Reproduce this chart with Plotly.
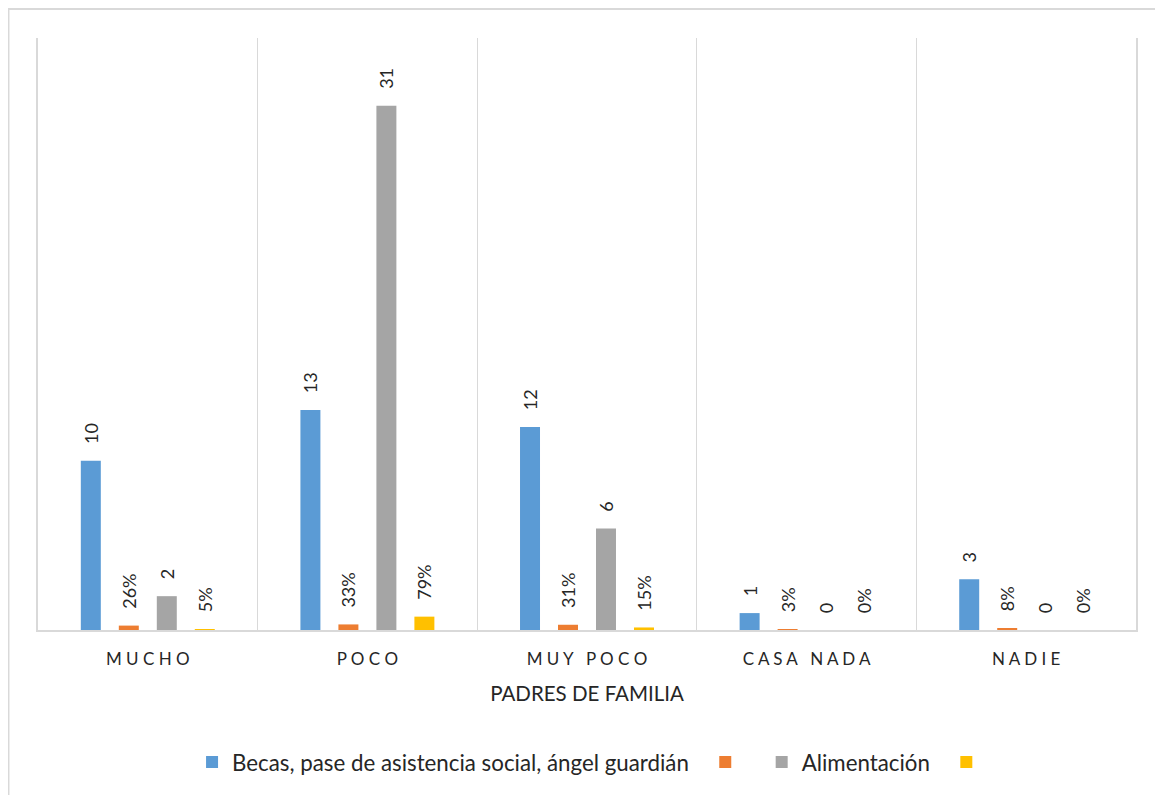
import plotly.graph_objects as go

categories = ["MUCHO", "POCO", "MUY POCO", "CASA NADA", "NADIE"]
becas = [10, 13, 12, 1, 3]
becas_pct = [0.26, 0.33, 0.31, 0.03, 0.08]
alimentacion = [2, 31, 6, 0, 0]
alimentacion_pct = [0.05, 0.79, 0.15, 0, 0]

series_names = ["Becas, pase de asistencia social, ángel guardián", "", "Alimentación", ""]
colors = ["#5B9BD5", "#ED7D31", "#A5A5A5", "#FFC000"]
# invisible trailing padding so legend entries are spaced as in the original
name_pad = [2, 2, 2, 0]

tick_labels = [" ".join(list(c)).replace("   ", "\u00a0\u00a0\u00a0") for c in categories]

FONT = "Lato"
PAD = "\u00a0\u00a0\u00a0"

fig = go.Figure()
data = [becas, becas_pct, alimentacion, alimentacion_pct]
templates = [PAD + "%{y}", PAD + "%{y:.0%}", PAD + "%{y}", PAD + "%{y:.0%}"]
for name, vals, col, tpl, npad in zip(series_names, data, colors, templates, name_pad):
    fig.add_trace(go.Bar(
        x=categories, y=vals, name=name + "\u00a0" * npad,
        marker=dict(color=col, line=dict(width=0)),
        texttemplate=tpl, textposition="outside", textangle=-90,
        textfont=dict(family=FONT, size=18, color="#262626"),
        cliponaxis=False, constraintext="none",
        showlegend=True,
    ))

fig.update_layout(
    width=1155, height=787,
    margin=dict(l=30, r=27, t=30, b=165),
    paper_bgcolor="white", plot_bgcolor="white",
    barmode="group", bargap=0.308, bargroupgap=0.474,
    font=dict(family=FONT, color="#262626"),
    showlegend=True,
    legend=dict(orientation="h", x=0.5046, xanchor="center", y=-0.223, yanchor="middle",
                font=dict(family=FONT, size=22.3, color="#262626"),
                itemwidth=30, traceorder="normal"),
    xaxis=dict(
        type="category", tickson="boundaries", showgrid=True, gridcolor="#D9D9D9", gridwidth=1,
        showline=True, linecolor="#D9D9D9", linewidth=1.5,
        ticks="", tickmode="array", tickvals=categories, ticktext=tick_labels,
        ticklabelstandoff=13,
        tickfont=dict(family=FONT, size=17, color="#262626"),
        title=dict(text="PADRES DE FAMILIA", font=dict(family=FONT, size=20.5, color="#262626"), standoff=18),
    ),
    yaxis=dict(
        range=[0, 35], showgrid=False, zeroline=False, showticklabels=False,
        showline=True, mirror=True, linecolor="#D9D9D9", linewidth=1.5, ticks="",
    ),
    shapes=[dict(type="rect", xref="paper", yref="paper",
                 x0=-0.0269, x1=1.06, y0=1.049, y1=-0.32,
                 line=dict(color="#D9D9D9", width=2), fillcolor="rgba(0,0,0,0)", layer="below")],
)

fig.write_html("out.html")
